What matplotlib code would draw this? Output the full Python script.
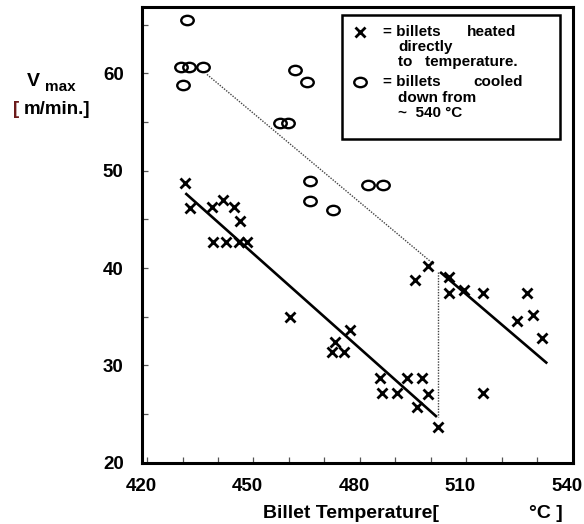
import matplotlib
matplotlib.use("Agg")
import matplotlib.pyplot as plt
import matplotlib.transforms as mtransforms
from matplotlib.ticker import MultipleLocator
from matplotlib.path import Path
from matplotlib.lines import Line2D
from matplotlib.patches import Rectangle

plt.rcParams['font.family'] = ['Liberation Sans', 'DejaVu Sans']
plt.rcParams['font.weight'] = 'bold'

# billets heated directly to temperature (x markers)
heated_T = [430.8, 432.2, 438.3, 441.5, 444.6, 446.1, 438.7, 442.3, 445.8, 448.1,
            460.3, 477.2, 473.0, 472.1, 475.4, 485.7, 493.2, 497.4, 486.2, 490.4,
            499.3, 496.0, 502.1, 499.3, 495.5, 505.2, 505.2, 509.2, 514.8, 527.0,
            528.9, 524.2, 531.2, 514.8]
heated_V = [48.7, 46.2, 46.3, 47.0, 46.3, 44.8, 42.7, 42.7, 42.7, 42.7,
            35.0, 33.6, 32.4, 31.4, 31.4, 28.7, 28.7, 28.7, 27.2, 27.2,
            27.1, 25.7, 23.7, 40.2, 38.8, 39.1, 37.4, 37.7, 37.4, 37.4,
            35.2, 34.6, 32.8, 27.2]

# billets cooled down from ~540 C (o markers)
cooled_T = [431.2, 429.6, 431.9, 435.7, 430.1, 461.7, 465.0, 457.4, 459.6,
            465.8, 465.8, 472.5, 482.4, 486.6]
cooled_V = [65.5, 60.7, 60.7, 60.7, 58.8, 60.4, 59.1, 54.9, 54.9,
            49.0, 46.9, 46.0, 48.5, 48.5]

# trend lines
fit_low_T = [430.8, 501.7]
fit_low_V = [47.7, 24.7]
fit_high_T = [502.6, 532.8]
fit_high_V = [39.6, 30.2]
dot_diag_T = [436.9, 500.8]
dot_diag_V = [59.9, 40.4]
dot_vert_T = [502.1, 502.1]
dot_vert_V = [39.6, 24.7]

W, H = 584, 524
fig = plt.figure(figsize=(W / 100, H / 100), dpi=100)
ax = fig.add_axes([141.7 / W, 1 - 462.7 / H, 431.1 / W, 455.4 / H])

c = Path.unit_circle()
ellipse = Path(c.vertices * [1, 0.75], c.codes)

ax.plot(fit_low_T, fit_low_V, color='black', lw=1.9, solid_capstyle='butt')
ax.plot(fit_high_T, fit_high_V, color='black', lw=1.9, solid_capstyle='butt')
ax.plot(dot_diag_T, dot_diag_V, color='#444444', lw=1.0, ls=(0, (1, 1)))
ax.plot(dot_vert_T, dot_vert_V, color='#444444', lw=1.0, ls=(0, (1, 1)))

ax.plot(heated_T, heated_V, ls='none', marker='x', ms=7.5, mew=2.0, color='black')
ax.plot(cooled_T, cooled_V, ls='none', marker=ellipse, ms=9, mew=1.7,
        mfc='none', mec='black')

ax.set_xlim(418.5, 540)
ax.set_ylim(20, 66.8)
ax.xaxis.set_major_locator(MultipleLocator(30))
ax.xaxis.set_minor_locator(MultipleLocator(10))
ax.yaxis.set_major_locator(MultipleLocator(10))
ax.yaxis.set_minor_locator(MultipleLocator(5))
ax.tick_params(which='both', direction='in', length=4, width=0.9, color='#555555')
ax.tick_params(axis='x', which='major', labelsize=13.5, pad=11)
ax.tick_params(axis='y', which='major', labelsize=13.5, pad=13)
for sp in ax.spines.values():
    sp.set_linewidth(2.2)

# x tick labels sit a little left of their ticks in the original
shift = mtransforms.ScaledTranslation(-6 / 100, 0, fig.dpi_scale_trans)
for lab in ax.get_xticklabels():
    lab.set_transform(lab.get_transform() + shift)


def fx(px):
    return px / W


def fy(py):
    return 1 - py / H


# y-axis label
fig.text(fx(27), fy(81), 'V', fontsize=14, ha='left', va='center')
fig.text(fx(45), fy(87), 'max', fontsize=11, ha='left', va='center')
fig.text(fx(13), fy(109), '[', fontsize=13.5, ha='left', va='center', color='#6b1a1a')
fig.text(fx(24), fy(109), 'm/min.]', fontsize=13.5, ha='left', va='center')

# x-axis label
fig.text(fx(263), fy(514), 'Billet Temperature[', fontsize=14, ha='left', va='center')
fig.text(fx(529), fy(514), '\u00b0C ]', fontsize=14, ha='left', va='center')

# legend box
fig.add_artist(Rectangle((fx(341.7), fy(139)), (560 - 341.7) / W, (139 - 15) / H,
                         transform=fig.transFigure, fill=False, lw=1.8, ec='black'))
fig.add_artist(Line2D([fx(360)], [fy(32)], marker='x', ms=7, mew=2.0, color='black',
                      transform=fig.transFigure))
fig.add_artist(Line2D([fx(360)], [fy(82)], marker=ellipse, ms=9, mew=1.7, mfc='none',
                      mec='black', transform=fig.transFigure))
legend_rows = [
    (383, 32, '= billets'), (467, 32, 'heated'),
    (398, 47, 'directly'),
    (398, 62, 'to   temperature.'),
    (383, 82, '= billets'), (473, 82, 'cooled'),
    (398, 98, 'down from'),
    (398, 113, '~  540 \u00b0C'),
]
for x, y, s in legend_rows:
    fig.text(fx(x), fy(y), s, fontsize=11, ha='left', va='center')

fig.savefig('out.png', dpi=100)
